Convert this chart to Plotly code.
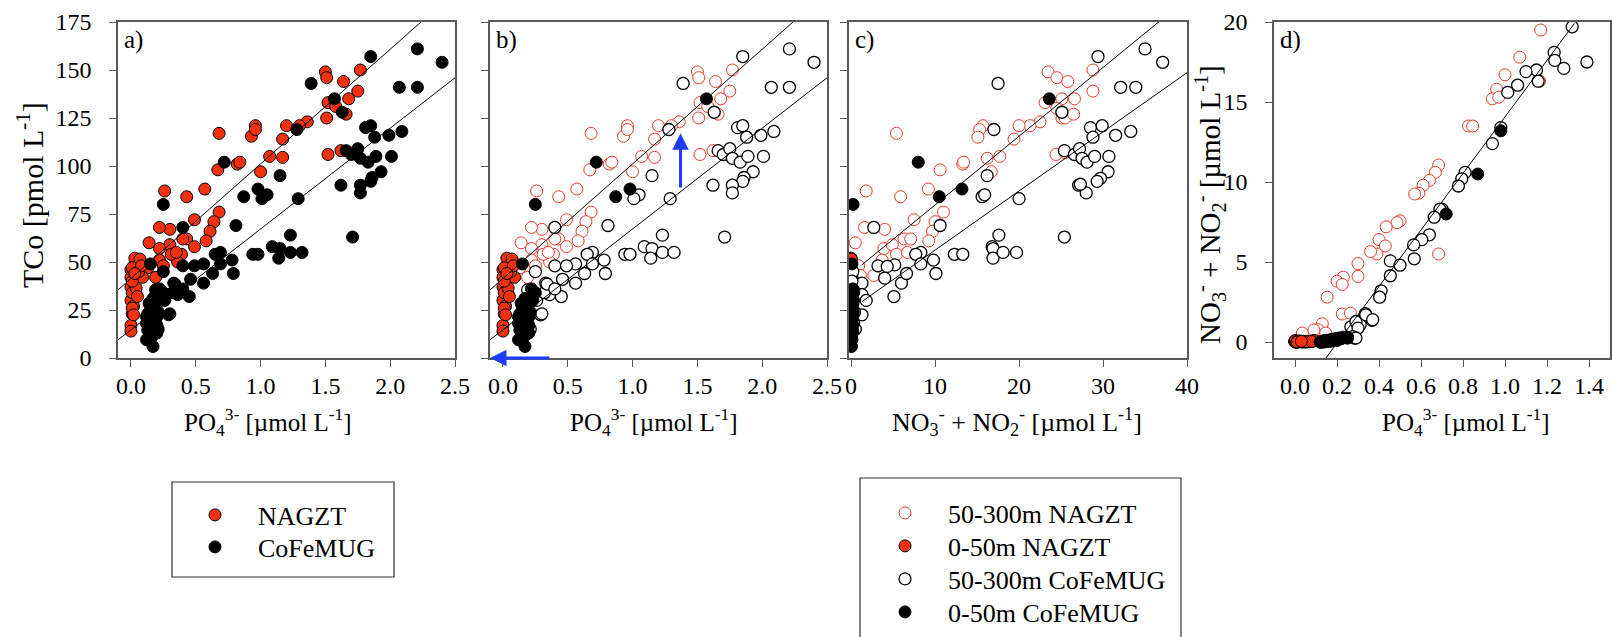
import numpy as np
import plotly.graph_objects as go

W, H = 1612, 637
FONT = "Liberation Serif"

# ---------------- data ----------------
# NAGZT 0-50 m (PO4, NO3+NO2, TCo)
nagzt_shallow_po4 = [0.03, 0.07, 0.00, 0.05, 0.09, 0.02, 0.04, 0.00, 0.02, 0.01, 0.00, 0.00,
                     0.00, 0.00, 0.01, 0.01, 0.04, 0.05, 0.01, 0.02, 0.06, 0.08, 0.01, 0.03]
nagzt_shallow_no3 = [0.00, 0.02, 0.05, 0.00, 0.10, 0.03, 0.00, 0.06, 0.02, 0.00, 0.04, 0.00,
                     0.01, 0.08, 0.03, 0.00, 0.05, 0.02, 0.00, 0.07, 0.01, 0.03, 0.00, 0.04]
nagzt_shallow_tco = [52, 51.5, 46, 46, 42, 36, 33, 30, 27, 23, 17, 14,
                     37, 42, 47, 34, 36.5, 32, 26, 22.5, 45, 48, 40, 44]

# CoFeMUG 0-50 m (PO4, NO3+NO2, TCo)
cofemug_shallow_po4 = [0.15, 0.22, 0.25, 0.14, 0.17, 0.12, 0.16, 0.13, 0.14, 0.17, 0.20, 0.18, 0.12,
                       0.20, 0.16, 0.14, 0.20, 0.21, 0.13, 0.17, 0.15, 0.19, 0.23, 0.16, 0.12,
                       0.25, 0.72, 0.87, 0.98, 1.57]
cofemug_shallow_no3 = [0.10, 0.20, 0.30, 0.05, 0.10, 0.00, 0.05, 0.00, 0.10, 0.05, 0.20, 0.15, 0.00,
                       0.10, 0.05, 0.00, 0.20, 0.25, 0.00, 0.15, 0.10, 0.20, 0.30, 0.05, 0.00,
                       0.24, 8.0, 10.5, 13.2, 23.6]
cofemug_shallow_tco = [49, 36, 34, 28.5, 25, 21.5, 18, 14.5, 9.5, 6, 21.5, 26.5, 9.5,
                       13, 16, 19, 17, 24, 23, 31, 27, 14, 30, 11, 18,
                       80, 102, 84, 88, 135]

# NAGZT 50-300 m : PO4 vs TCo (panels a, b)
nagzt_deep_po4 = [1.50, 1.51, 1.77, 1.64, 1.75, 1.68, 1.52, 1.58, 1.51, 1.66, 1.36, 1.30, 1.20,
                  1.17, 1.17, 1.07, 1.00, 0.93, 0.96, 0.96, 0.68, 0.67, 0.82, 0.84, 1.52, 1.62,
                  0.26, 0.43, 0.57, 0.68, 0.64, 0.61, 0.58, 0.49, 0.43, 0.40, 0.49, 0.30, 0.22,
                  0.30, 0.22, 0.14, 0.39, 0.36, 0.22, 0.31, 0.19, 0.13, 0.25, 0.35]
nagzt_deep_tco = [149, 146, 150, 144, 139, 135, 133, 131, 125, 127, 123, 121, 121,
                  114, 104.5, 105, 97, 115.5, 121, 119, 117, 98, 101, 102, 106, 108,
                  87, 84, 88, 76, 71, 66, 61, 72, 62, 62, 58, 67, 68,
                  59, 57, 60, 54, 50, 51, 54, 42, 47, 48, 55]

# CoFeMUG 50-300 m : PO4 vs TCo (panels a, b)
cofemug_deep_po4 = [1.85, 2.21, 2.40, 1.39, 2.07, 2.21, 1.63, 1.28, 1.81, 1.85, 1.88, 1.99, 2.09,
                    2.01, 1.66, 1.70, 1.75, 1.77, 1.83, 1.89, 1.93, 1.86, 1.85, 1.77, 1.77, 1.62,
                    1.15, 1.29, 1.05, 1.01, 1.71, 1.23, 1.09, 1.15, 1.14, 1.23, 1.32, 0.94, 0.98,
                    0.81, 0.40, 0.69, 0.65, 0.78, 0.79, 0.69, 0.56, 0.63, 0.56, 0.40, 0.49, 0.46,
                    0.45, 0.33, 0.36, 0.25, 0.26, 0.29, 0.21, 0.19, 0.32, 0.34, 0.30, 0.40]
cofemug_deep_tco = [157, 161, 154, 143, 141, 141, 128, 119, 120, 121, 115, 116, 118,
                    105, 108, 106, 109, 104, 102, 105, 97, 94, 92, 90, 86, 90,
                    95, 83, 85, 83, 63, 64, 58, 57, 52, 55, 55, 54, 54,
                    69, 68, 55, 54, 51, 44, 49, 49, 44, 39, 48, 48, 41,
                    32, 39, 33, 45, 30, 22.5, 15, 35.5, 34, 38.5, 23, 36]

# NAGZT 50-300 m : NO3+NO2 vs TCo (panel c)
nagzt_deep_no3_c = [23.45, 24.5, 25.8, 28.8, 28.8, 25.1, 26.6, 23.1, 24.5, 25.1, 25.5, 26.5, 22.5,
                    21.3, 20.0, 19.4, 15.7, 15.3, 15.1, 17.7, 16.2, 16.7, 24.4, 25.5, 13.3, 13.4,
                    10.6, 5.4, 1.8, 5.9, 9.2, 11.0, 10.0, 9.7, 9.25, 7.5, 6.3, 7.1, 3.9, 4.0,
                    1.6, 0.5, 4.9, 5.4, 6.7, 2.7, 3.7, 0.9, 1.1]
nagzt_deep_tco_c = [149, 146, 144, 150, 139, 135, 135, 133, 130, 125, 125, 127, 123,
                    121, 121, 114, 121, 119, 115, 105, 104, 97, 106, 107, 101, 102,
                    98, 117, 87, 84, 88, 76, 71, 66, 61, 72, 62, 62, 57, 67,
                    68, 60, 59, 54, 55, 43, 51, 48, 43]

# CoFeMUG 50-300 m : NO3+NO2 vs TCo (panel c)
cofemug_deep_no3_c = [29.4, 35.0, 37.1, 17.5, 32.1, 33.9, 25.1, 17.0, 28.5, 29.9, 28.8, 31.5, 33.3,
                      30.7, 25.4, 26.6, 27.2, 27.5, 28.1, 29.0, 30.6, 29.7, 29.3, 27.1, 28.0, 27.3,
                      16.2, 20.0, 15.6, 15.9, 25.4, 17.6, 16.8, 16.9, 16.9, 18.1, 19.7, 12.3, 13.3,
                      10.6, 2.7, 8.3, 7.7, 9.8, 10.1, 8.3, 5.2, 4.0, 6.0, 3.2, 4.3, 6.6, 5.1,
                      1.3, 1.3, 1.8, 1.3, 0.2, 0.1, 0.3, 0.2, 0.4, 0.3, 0.5]
cofemug_deep_tco_c = [157, 161, 154, 143, 141, 141, 128, 119, 120, 121, 115, 116, 118,
                      105, 108, 106, 109, 104, 102, 105, 97, 93.6, 92, 90, 86, 90.5,
                      95, 83, 84, 85, 63, 64, 58, 57, 52, 55, 55, 54, 54,
                      69, 68, 55, 54, 51, 44, 49, 48.5, 41.6, 39, 48, 47.7, 44, 32,
                      39, 33, 30, 22.5, 45, 40, 35, 28, 24, 18, 15]

# NAGZT 50-300 m : PO4 vs NO3+NO2 (panel d)
nagzt_deep_po4_d = [1.17, 1.07, 1.00, 1.165, 0.96, 0.94, 0.97, 0.826, 0.846, 0.684, 0.668, 0.64,
                    0.61, 0.59, 0.57, 0.50, 0.486, 0.434, 0.40, 0.43, 0.39, 0.36, 0.684, 0.30,
                    0.30, 0.23, 0.20, 0.225, 0.153, 0.225, 0.264, 0.13, 0.11, 0.035, 0.146, 0.09]
nagzt_deep_no3_d = [19.5, 17.8, 16.7, 16.3, 15.8, 15.2, 15.3, 13.5, 13.5, 11.06, 10.6, 10.1,
                    9.8, 9.3, 9.25, 7.57, 7.46, 7.2, 6.4, 6.0, 5.5, 5.65, 5.5, 4.9,
                    4.1, 4.05, 3.8, 3.6, 2.8, 1.75, 1.8, 1.14, 0.77, 0.56, 0.56, 0.75]

# CoFeMUG 50-300 m : PO4 vs NO3+NO2 (panel d)
cofemug_deep_po4_d = [1.32, 1.39, 1.234, 1.237, 1.28, 1.15, 1.10, 1.158, 1.06, 1.013, 0.98, 0.94,
                      0.81, 0.794, 0.778, 0.70, 0.69, 0.663, 0.64, 0.604, 0.565, 0.568, 0.454,
                      0.50, 0.454, 0.41, 0.403, 0.367, 0.335, 0.293, 0.31, 0.272, 0.283, 0.266,
                      0.29, 0.30, 0.337, 0.37, 0.275, 0.29]
cofemug_deep_no3_d = [19.7, 17.5, 18.1, 17.6, 17.1, 17.0, 16.9, 16.3, 16.05, 15.6, 13.4, 12.4,
                      10.6, 10.2, 9.75, 8.3, 8.3, 7.8, 6.7, 6.4, 6.07, 5.2, 5.07,
                      4.8, 4.14, 3.2, 2.8, 1.35, 1.77, 1.29, 1.08, 0.87, 0.25, 0.95,
                      1.27, 0.87, 1.7, 1.4, 0.33, 0.25]

# regression lines (slope, intercept)
fit_po4_tco_slope = [59.7, 52.5]        # NAGZT, CoFeMUG
fit_po4_tco_intercept = [41.4, 14.7]
fit_no3_tco_slope = [3.58, 3.08]
fit_no3_tco_intercept = [43.9, 25.4]
fit_no3_tco_xrange = [1.27, 40]
fit_po4_no3_slope = 17.67
fit_po4_no3_intercept = -3.6
fit_po4_no3_xrange = [0.1, 1.33]

# ---------------- styling ----------------
RED = "rgb(242,50,15)"
RED_OPEN = "rgb(232,58,40)"
MS = 12


def px(x):
    return x / W


def py(y):
    return 1 - y / H


def filled(color):
    return dict(symbol="circle", size=MS, color=color, line=dict(color="black", width=1))


def hollow(color, w=1.2):
    return dict(symbol="circle", size=MS, color="white", line=dict(color=color, width=w))


fig = go.Figure()

# ---- panel a ----
fig.add_trace(go.Scatter(x=nagzt_deep_po4 + nagzt_shallow_po4, y=nagzt_deep_tco + nagzt_shallow_tco,
                         mode="markers", marker=filled(RED), name="NAGZT",
                         xaxis="x", yaxis="y", legend="legend"))
fig.add_trace(go.Scatter(x=cofemug_deep_po4 + cofemug_shallow_po4, y=cofemug_deep_tco + cofemug_shallow_tco,
                         mode="markers", marker=filled("black"), name="CoFeMUG",
                         xaxis="x", yaxis="y", legend="legend2"))

# ---- panel b ----
fig.add_trace(go.Scatter(x=nagzt_deep_po4, y=nagzt_deep_tco, mode="markers",
                         marker=hollow(RED_OPEN, 1.0), name="50-300m NAGZT",
                         xaxis="x2", yaxis="y2", legend="legend3"))
fig.add_trace(go.Scatter(x=nagzt_shallow_po4, y=nagzt_shallow_tco, mode="markers",
                         marker=filled(RED), name="0-50m NAGZT",
                         xaxis="x2", yaxis="y2", legend="legend4"))
fig.add_trace(go.Scatter(x=cofemug_deep_po4, y=cofemug_deep_tco, mode="markers",
                         marker=hollow("black", 1.3), name="50-300m CoFeMUG",
                         xaxis="x2", yaxis="y2", legend="legend5"))
fig.add_trace(go.Scatter(x=cofemug_shallow_po4, y=cofemug_shallow_tco, mode="markers",
                         marker=filled("black"), name="0-50m CoFeMUG",
                         xaxis="x2", yaxis="y2", legend="legend6"))

# ---- panel c ----
fig.add_trace(go.Scatter(x=nagzt_deep_no3_c, y=nagzt_deep_tco_c, mode="markers",
                         marker=hollow(RED_OPEN, 1.0), showlegend=False, xaxis="x3", yaxis="y3"))
fig.add_trace(go.Scatter(x=nagzt_shallow_no3, y=nagzt_shallow_tco, mode="markers",
                         marker=filled(RED), showlegend=False, xaxis="x3", yaxis="y3"))
fig.add_trace(go.Scatter(x=cofemug_deep_no3_c, y=cofemug_deep_tco_c, mode="markers",
                         marker=hollow("black", 1.3), showlegend=False, xaxis="x3", yaxis="y3"))
fig.add_trace(go.Scatter(x=cofemug_shallow_no3, y=cofemug_shallow_tco, mode="markers",
                         marker=filled("black"), showlegend=False, xaxis="x3", yaxis="y3"))

# ---- panel d ----
fig.add_trace(go.Scatter(x=nagzt_deep_po4_d, y=nagzt_deep_no3_d, mode="markers",
                         marker=hollow(RED_OPEN, 1.0), showlegend=False, xaxis="x4", yaxis="y4"))
fig.add_trace(go.Scatter(x=nagzt_shallow_po4, y=nagzt_shallow_no3, mode="markers",
                         marker=filled(RED), showlegend=False, xaxis="x4", yaxis="y4"))
fig.add_trace(go.Scatter(x=cofemug_deep_po4_d, y=cofemug_deep_no3_d, mode="markers",
                         marker=hollow("black", 1.3), showlegend=False, xaxis="x4", yaxis="y4"))
fig.add_trace(go.Scatter(x=cofemug_shallow_po4, y=cofemug_shallow_no3, mode="markers",
                         marker=filled("black"), showlegend=False, xaxis="x4", yaxis="y4"))

# ---- regression lines ----
xs_po4 = np.array([-0.1, 2.5])
for ax in ["", "2"]:
    for s, b in zip(fit_po4_tco_slope, fit_po4_tco_intercept):
        fig.add_trace(go.Scatter(x=xs_po4, y=s * xs_po4 + b, mode="lines",
                                 line=dict(color="black", width=1), showlegend=False,
                                 hoverinfo="skip", xaxis="x" + ax, yaxis="y" + ax))
xs_no3 = np.array(fit_no3_tco_xrange)
for s, b in zip(fit_no3_tco_slope, fit_no3_tco_intercept):
    fig.add_trace(go.Scatter(x=xs_no3, y=s * xs_no3 + b, mode="lines",
                             line=dict(color="black", width=1), showlegend=False,
                             hoverinfo="skip", xaxis="x3", yaxis="y3"))
xs_d = np.array(fit_po4_no3_xrange)
fig.add_trace(go.Scatter(x=xs_d, y=fit_po4_no3_slope * xs_d + fit_po4_no3_intercept, mode="lines",
                         line=dict(color="black", width=1), showlegend=False,
                         hoverinfo="skip", xaxis="x4", yaxis="y4"))

# ---------------- axes ----------------
AXC = "#5a5a5a"
tickfont = dict(family=FONT, size=24, color="black")
common = dict(showline=True, mirror=True, linecolor=AXC, linewidth=1.5, ticks="outside",
              ticklen=7, tickwidth=1.3, tickcolor=AXC, showgrid=False, zeroline=False,
              tickfont=tickfont)

panels_x = [(118, 455), (490, 827), (849, 1187), (1274, 1610)]
ydom = [py(358), py(22)]

layout = dict(
    width=W, height=H, margin=dict(l=0, r=0, t=0, b=0, autoexpand=False),
    paper_bgcolor="white", plot_bgcolor="white",
    font=dict(family=FONT, color="black", size=24),
    showlegend=True,
)
xcfg = [
    dict(range=[-0.1, 2.5], tickvals=[0, 0.5, 1.0, 1.5, 2.0, 2.5], tickformat=".1f"),
    dict(range=[-0.1, 2.5], tickvals=[0, 0.5, 1.0, 1.5, 2.0, 2.5], tickformat=".1f"),
    dict(range=[-0.25, 40], tickvals=[0, 10, 20, 30, 40]),
    dict(range=[-0.1, 1.5], tickvals=[0, 0.2, 0.4, 0.6, 0.8, 1.0, 1.2, 1.4], tickformat=".1f"),
]
ycfg = [
    dict(range=[0, 175], tickvals=[0, 25, 50, 75, 100, 125, 150, 175]),
    dict(range=[0, 175], tickvals=[0, 25, 50, 75, 100, 125, 150, 175], showticklabels=False),
    dict(range=[0, 175], tickvals=[0, 25, 50, 75, 100, 125, 150, 175], showticklabels=False),
    dict(range=[-1, 20], tickvals=[0, 5, 10, 15, 20]),
]
for i in range(4):
    sfx = "" if i == 0 else str(i + 1)
    xa = dict(common)
    xa.update(xcfg[i])
    xa.update(domain=[px(panels_x[i][0]), px(panels_x[i][1])], anchor="y" + sfx,
              ticklabelstandoff=-2)
    ya = dict(common)
    ya.update(ycfg[i])
    ya.update(domain=ydom, anchor="x" + sfx, ticklabelstandoff=13)
    layout["xaxis" + sfx] = xa
    layout["yaxis" + sfx] = ya

# ---------------- legends (one entry each, inside two framed boxes) ----------------
legend_rows = [("legend", 172, 515), ("legend2", 172, 547),
               ("legend3", 862, 513), ("legend4", 862, 546),
               ("legend5", 862, 579), ("legend6", 862, 612)]
for name, lx, ly in legend_rows:
    layout[name] = dict(x=px(lx), y=py(ly), xanchor="left", yanchor="middle",
                        bgcolor="rgba(0,0,0,0)", borderwidth=0, itemwidth=76,
                        font=dict(family=FONT, size=26, color="black"),
                        tracegroupgap=0, itemclick=False, itemdoubleclick=False)
layout["shapes"] = [
    dict(type="rect", xref="paper", yref="paper", x0=px(172), x1=px(394), y0=py(577), y1=py(482),
         line=dict(color="#333", width=1.2)),
    dict(type="rect", xref="paper", yref="paper", x0=px(860), x1=px(1181), y0=py(660), y1=py(478),
         line=dict(color="#333", width=1.2)),
]

# ---------------- titles / labels ----------------
po4_title = "PO<sub>4</sub><sup>3-</sup> [µmol L<sup>-1</sup>]"
no3_title = "NO<sub>3</sub><sup>-</sup> + NO<sub>2</sub><sup>-</sup> [µmol L<sup>-1</sup>]"
ann = [
    dict(text=po4_title, x=px(268), y=py(422), size=25),
    dict(text=po4_title, x=px(654), y=py(422), size=25),
    dict(text=no3_title, x=px(1017), y=py(422), size=26),
    dict(text=po4_title, x=px(1466), y=py(422), size=25),
    dict(text="TCo [pmol L<sup>-1</sup>]", x=px(30), y=py(195), textangle=-90, size=30),
    dict(text=no3_title, x=px(1210), y=py(205), textangle=-90, size=29),
]
annotations = []
for a in ann:
    sz = a.pop("size")
    d = dict(xref="paper", yref="paper", showarrow=False,
             font=dict(family=FONT, size=sz, color="black"),
             xanchor="center", yanchor="middle")
    d.update(a)
    annotations.append(d)
for lab, (x0, _) in zip(["a)", "b)", "c)", "d)"], panels_x):
    annotations.append(dict(text=lab, xref="paper", yref="paper", x=px(x0 + 4), y=py(40),
                            xanchor="left", yanchor="middle", showarrow=False,
                            font=dict(family=FONT, size=25, color="black")))
# blue arrows in panel b
BLUE = "rgb(30,60,255)"
annotations.append(dict(x=1.37, y=117, ax=1.37, ay=88, xref="x2", yref="y2", axref="x2", ayref="y2",
                        showarrow=True, arrowhead=2, arrowsize=1.1, arrowwidth=3, arrowcolor=BLUE, text=""))
annotations.append(dict(x=-0.1, y=0, ax=0.37, ay=0, xref="x2", yref="y2", axref="x2", ayref="y2",
                        showarrow=True, arrowhead=2, arrowsize=1.1, arrowwidth=3, arrowcolor=BLUE, text=""))
layout["annotations"] = annotations

fig.update_layout(layout)
fig.write_html("out.html", config={"displayModeBar": False},
               post_script="document.body.style.margin='0';document.body.style.overflow='hidden';")
